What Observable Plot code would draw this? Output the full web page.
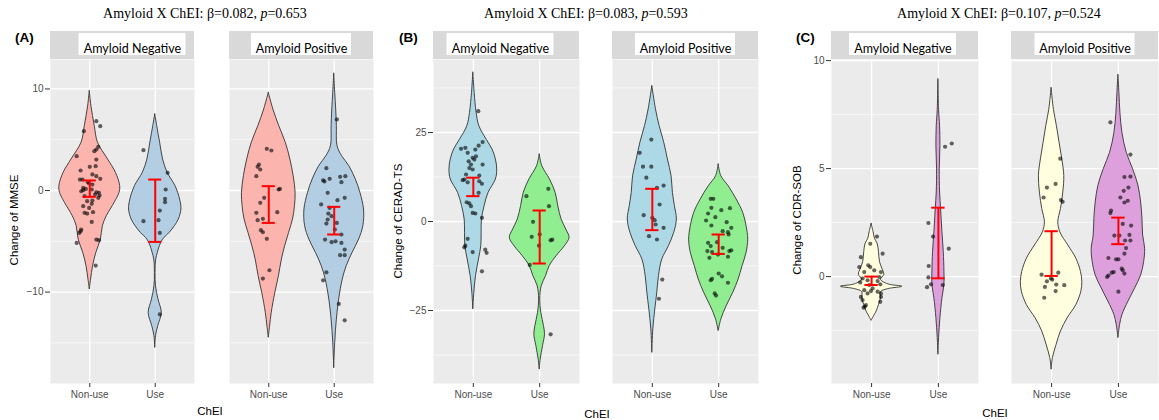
<!DOCTYPE html>
<html><head><meta charset="utf-8">
<script src="https://cdn.jsdelivr.net/npm/d3@7"></script>
<script src="https://cdn.jsdelivr.net/npm/@observablehq/plot@0.6"></script>
<style>
body{margin:0;background:#fff;}
#root{position:relative;width:1159px;height:420px;overflow:hidden;background:#fff;}
.panel{position:absolute;top:28px;}
.title{position:absolute;top:6px;line-height:16px;font-family:"Liberation Serif","Times New Roman",serif;font-size:14px;color:#000;white-space:nowrap;transform:translateX(-50%);}
.tag{position:absolute;top:30px;line-height:16px;font-family:"Liberation Sans",Arial,sans-serif;font-weight:bold;font-size:13.5px;color:#000;}
.ylab{position:absolute;font-family:"Liberation Sans",Arial,sans-serif;font-size:11.5px;color:#000;white-space:nowrap;transform:translate(-50%,-50%) rotate(-90deg);}
.xlab{position:absolute;font-family:"Liberation Sans",Arial,sans-serif;font-size:11.5px;color:#000;white-space:nowrap;transform:translate(-50%,-50%);}
</style></head><body><div id="root"></div>
<script>
// ---------- categories / labels ----------
const facets = ["Amyloid Negative", "Amyloid Positive"];
const groups = ["Non-use", "Use"];
const panelTags = ["(A)", "(B)", "(C)"];
const yLabels = ["Change of MMSE", "Change of CERAD-TS", "Change of CDR-SOB"];
const betas = ["0.082", "0.083", "0.107"];
const pvals = ["0.653", "0.593", "0.524"];
const xLabel = "ChEI";

// ---------- tick values ----------
const ticksA = [-10, 0, 10], minorA = [-15, -5, 5];
const ticksB = [-25, 0, 25], minorB = [-37.5, -12.5, 12.5, 37.5];
const ticksC = [0, 5, 10], minorC = [-2.5, 2.5, 7.5];

// ---------- violin outlines: [value, half-width (x units)] ----------
const A_negNon = [[9.79,0],[8.31,0.025],[6.34,0.076],[4.70,0.126],[3.05,0.28],[1.74,0.40],[0.43,0.465],[-0.23,0.455],[-1.21,0.38],[-2.53,0.26],[-3.51,0.20],[-4.83,0.17],[-6.14,0.10],[-7.46,0.05],[-8.77,0.02],[-9.75,0]];
const A_negUse = [[7.49,0],[6.34,0.03],[4.70,0.075],[3.05,0.12],[1.74,0.19],[0.43,0.31],[-0.89,0.38],[-1.87,0.40],[-2.86,0.36],[-3.51,0.30],[-4.17,0.22],[-4.83,0.12],[-5.49,0.07],[-6.14,0.04],[-6.80,0.015],[-8.11,0.005],[-9.43,0.012],[-10.74,0.05],[-12.05,0.10],[-13.37,0.045],[-14.35,0.012],[-15.5,0]];
const A_posNon = [[9.62,0],[7.98,0.07],[6.34,0.16],[4.70,0.26],[3.05,0.33],[1.41,0.38],[-0.23,0.41],[-1.54,0.40],[-2.86,0.37],[-4.17,0.31],[-5.49,0.25],[-6.80,0.20],[-8.44,0.155],[-10.08,0.10],[-12.05,0.045],[-13.4,0.02],[-14.5,0]];
const A_posUse = [[11.5,0],[9.62,0.015],[7.98,0.03],[6.34,0.04],[4.37,0.05],[3.38,0.12],[2.40,0.23],[1.08,0.33],[-0.23,0.40],[-1.87,0.455],[-3.51,0.445],[-4.83,0.38],[-6.14,0.28],[-7.46,0.19],[-8.77,0.13],[-10.74,0.075],[-12.71,0.04],[-15.0,0.015],[-17.5,0]];

const B_negNon = [[41.8,0],[36.1,0.02],[30.5,0.05],[26.8,0.09],[23.0,0.20],[20.2,0.29],[17.4,0.34],[14.6,0.36],[11.8,0.34],[8.05,0.23],[4.31,0.17],[0.56,0.13],[-3.18,0.125],[-6.93,0.12],[-10.67,0.085],[-15.36,0.04],[-20.0,0.015],[-24.7,0]];
const B_negUse = [[18.8,0],[15.5,0.04],[11.8,0.155],[8.05,0.24],[4.31,0.28],[0.56,0.33],[-2.25,0.40],[-4.59,0.45],[-6.93,0.38],[-9.74,0.255],[-12.55,0.15],[-15.36,0.095],[-18.2,0.03],[-21.9,0.008],[-25.7,0.025],[-29.4,0.065],[-31.8,0.08],[-35.0,0.05],[-38.8,0.015],[-41.6,0]];
const B_posNon = [[38.0,0],[31.5,0.055],[26.8,0.11],[22.1,0.18],[17.4,0.235],[12.7,0.29],[8.05,0.31],[4.31,0.34],[0.56,0.37],[-3.18,0.33],[-6.93,0.25],[-10.67,0.15],[-15.36,0.10],[-20.0,0.075],[-24.7,0.045],[-30.3,0.015],[-36.9,0]];
const B_posUse = [[16.0,0],[12.7,0.04],[9.9,0.15],[6.2,0.27],[2.4,0.37],[-1.31,0.42],[-5.06,0.445],[-8.8,0.42],[-12.55,0.36],[-16.3,0.30],[-20.0,0.22],[-23.8,0.12],[-27.5,0.04],[-30.8,0]];

const C_negNon = [[2.44,0],[2.05,0.03],[1.75,0.05],[1.52,0.09],[1.14,0.11],[0.68,0.125],[0.37,0.16],[0.08,0.19],[-0.15,0.14],[-0.36,0.25],[-0.47,0.46],[-0.58,0.25],[-0.72,0.14],[-1.01,0.14],[-1.32,0.11],[-1.62,0.075],[-1.93,0.02],[-2.05,0]];
const C_negUse = [[9.13,0],[7.72,0.01],[6.96,0.025],[6.04,0.03],[4.97,0.02],[3.89,0.025],[3.13,0.04],[2.05,0.06],[1.14,0.08],[0.23,0.09],[-0.39,0.09],[-1.01,0.06],[-1.93,0.03],[-2.85,0.01],[-3.62,0]];
const C_posNon = [[8.72,0],[7.72,0.035],[6.96,0.08],[6.19,0.12],[5.43,0.16],[4.66,0.19],[3.89,0.175],[3.13,0.14],[2.52,0.10],[2.05,0.13],[1.44,0.25],[0.83,0.37],[0.21,0.44],[-0.25,0.46],[-0.70,0.445],[-1.32,0.37],[-1.93,0.24],[-2.54,0.14],[-3.16,0.075],[-3.77,0.02],[-4.31,0]];
const C_posUse = [[9.33,0],[8.49,0.015],[7.57,0.03],[6.65,0.06],[5.73,0.125],[4.97,0.22],[4.2,0.30],[3.43,0.34],[2.67,0.36],[1.9,0.37],[1.29,0.40],[0.67,0.385],[0.05,0.34],[-0.55,0.25],[-1.16,0.15],[-1.78,0.06],[-2.24,0.025],[-2.85,0]];

// ---------- jittered points: [x offset (x units), value] ----------
const A_negNonPts = [[0.10,6.83],[0.16,6.34],[-0.09,5.84],[0.13,4.30],[0.10,4.04],[0.07,3.87],[-0.20,3.38],[0.10,3.05],[0,2.33],[0.09,2.40],[-0.14,1.97],[0.04,1.58],[0.10,1.41],[0.16,1.15],[-0.15,1.08],[-0.11,1.08],[-0.03,0.82],[0.04,0.59],[-0.10,0.26],[-0.06,0.16],[-0.10,0.03],[0.03,0.10],[0.10,-0.17],[0.14,-0.23],[0.15,-0.49],[-0.08,-0.56],[-0.04,-1.05],[0.04,-0.99],[0.03,-1.31],[-0.10,-1.54],[-0.08,-2.20],[-0.04,-2.27],[0.05,-2.13],[0.03,-3.09],[-0.13,-3.84],[-0.14,-4.01],[-0.16,-4.17],[-0.20,-5.16],[0.10,-4.83],[0.14,-4.89],[0.09,-7.39],[-0.01,0.69],[0.08,-0.39],[-0.13,-0.07],[0.13,-0.72],[-0.01,-1.71]];
const A_negUsePts = [[-0.18,3.97],[0.19,1.74],[0.16,0.10],[0.15,-0.82],[0.15,-1.15],[0.07,-1.97],[-0.18,-3.02],[0.05,-2.92],[0.07,-4.17],[0.07,-12.2]];
const A_posNonPts = [[-0.03,4.11],[0.04,3.94],[-0.15,2.56],[-0.17,2.33],[-0.13,2.07],[-0.19,1.41],[0.15,0.10],[0.17,0.16],[-0.07,-0.72],[-0.13,-1.21],[-0.19,-2.20],[0.13,-2.13],[-0.17,-2.92],[-0.09,-2.79],[-0.12,-3.90],[-0.09,-4.11],[-0.03,-4.76],[0.01,-7.85],[-0.09,-8.67]];
const A_posUsePts = [[0.04,7.00],[-0.12,2.2],[-0.17,1.0],[-0.15,0.9],[-0.07,1.15],[0.09,1.35],[0.17,1.41],[0.11,0.82],[-0.10,-0.23],[-0.20,-1.37],[0.16,-0.72],[0.05,-0.95],[-0.07,-1.71],[-0.09,-2.27],[-0.04,-2.53],[-0.10,-2.86],[-0.12,-3.25],[0.04,-3.19],[0.01,-3.84],[0.11,-4.33],[-0.14,-4.83],[-0.04,-5.09],[0.02,-5.0],[0.11,-5.16],[0.16,-5.81],[0.09,-6.37],[0.16,-6.37],[-0.12,-8.05],[-0.17,-8.84],[0.07,-11.17],[0.16,-12.78]];

const B_negNonPts = [[0.075,31.0],[0.14,22.3],[0.08,21.3],[-0.185,20.4],[-0.12,20.7],[0.03,20.2],[-0.085,19.3],[0.04,18.3],[-0.01,17.9],[-0.07,16.9],[0.015,17.4],[-0.035,16.0],[0.14,16.0],[-0.06,15.0],[-0.01,14.6],[-0.11,13.2],[0.09,12.9],[-0.135,11.8],[-0.16,11.6],[-0.085,11.0],[0.09,11.3],[0.13,10.6],[0.08,8.05],[-0.10,5.4],[-0.06,5.07],[-0.035,4.31],[-0.01,2.4],[0.03,2.25],[0.13,1.03],[-0.085,-4.87],[-0.12,-6.8],[-0.135,-7.25],[-0.01,-8.6],[0.18,-7.9],[0.20,-8.8],[0.13,-14.0]];
const B_negUsePts = [[0.13,9.18],[-0.2,7.1],[0.14,4.31],[-0.10,-0.08],[-0.12,-4.3],[0,-3.6],[-0.01,-6.8],[0.19,-5.1],[0.165,-5.3],[-0.15,-12.2],[0.165,-31.7]];
const B_posNonPts = [[-0.015,23.0],[-0.19,19.3],[-0.14,15.4],[-0.015,15.4],[-0.09,12.3],[0.17,10.1],[0.07,9.45],[0.11,4.77],[-0.13,1.78],[0,1.03],[0.035,0.37],[0.05,-0.84],[0.17,-1.78],[-0.05,-4.12],[0.07,-5.06],[0.15,-16.3],[0.10,-21.7]];
const B_posUsePts = [[-0.12,6.37],[-0.08,6.37],[0.04,3.18],[0.17,3.74],[-0.11,3.84],[-0.16,2.25],[-0.05,1.22],[-0.19,0.28],[-0.11,-1.12],[0.12,-0.18],[0.19,-1.78],[0.06,-2.72],[0.14,-3.0],[0.15,-3.65],[-0.16,-6.0],[-0.12,-6.9],[-0.025,-5.8],[0.06,-7.4],[-0.17,-8.3],[0.16,-8.3],[0.19,-8.1],[-0.10,-8.6],[-0.01,-9.3],[-0.14,-10.2],[0.14,-9.9],[0,-14.6],[0.05,-15.4],[-0.10,-16.1],[-0.12,-16.5],[0.14,-17.2],[-0.06,-20.2],[-0.04,-20.8]];

const C_negNonPts = [[0.08,1.85],[-0.02,1.52],[0.165,1.06],[-0.16,0.90],[-0.05,0.52],[-0.02,0.44],[-0.185,0.44],[-0.11,0.21],[0.04,0.29],[0.14,0.21],[0.115,-0.02],[-0.135,-0.09],[-0.06,-0.17],[0.09,-0.21],[-0.17,-0.27],[0.13,-0.36],[-0.035,-0.39],[0.015,-0.55],[-0.11,-0.63],[-0.01,-0.67],[0.14,-0.78],[-0.16,-0.94],[-0.135,-1.09],[0.14,-0.94],[0.13,-1.17],[-0.085,-1.32],[-0.12,-1.44],[-0.10,-1.39],[0.09,-0.70],[-0.06,-0.78]];
const C_negUsePts = [[0.10,6.01],[0.20,6.16],[-0.15,2.48],[-0.08,1.85],[0.155,1.29],[-0.145,0.49],[-0.15,-0.04],[-0.11,-0.36],[-0.17,-0.49],[0.065,-0.39]];
const C_posNonPts = [[0.13,5.46],[-0.07,4.12],[0.06,4.29],[-0.12,3.66],[0.14,3.54],[0.165,3.46],[-0.15,0.09],[0.10,0.18],[0.01,-0.14],[-0.07,-0.22],[0.07,-0.37],[0.19,-0.40],[-0.10,-0.48],[0.06,-0.67],[-0.11,-0.98],[-0.01,-0.09]];
const C_posUsePts = [[-0.12,7.14],[0.18,5.65],[0.09,4.61],[0.18,4.63],[0.15,4.12],[0.08,3.97],[0.03,3.66],[0.14,3.51],[0.09,3.43],[-0.11,3.05],[-0.12,2.94],[0.065,2.44],[0.19,2.36],[-0.06,1.90],[0.015,1.90],[0.165,1.93],[0.10,1.67],[0.18,1.67],[0.115,1.32],[0.09,1.06],[-0.15,0.86],[-0.035,0.80],[0,0.80],[-0.07,0.21],[0.05,0.37],[0.065,0.29],[-0.10,0.18],[-0.17,-0.02],[-0.15,0.05],[0.09,0.14],[0,-0.70]];

// ---------- error bars: [low, high] (neg Non-use, neg Use, pos Non-use, pos Use) ----------
const errA = [[-0.62,0.99],[-5.06,1.08],[-3.19,0.43],[-4.33,-1.61]];
const errB = [[7.12,12.3],[-11.8,3.09],[-2.43,9.18],[-9.1,-3.65]];
const errC = [[-0.39,0.0],[-0.08,3.19],[0.03,2.10],[1.50,2.73]];

// ---------- fills ----------
const colorsA = ["#FBB4AE", "#B3CDE3"];
const colorsB = ["#ADD8E6", "#90EE90"];
const colorsC = ["#FFFFE0", "#DDA0DD"];

const panels = [
  {left:0, width:385, ml:50, mr:12, gap:35, ydomain:[-19.0,12.9], ticks:ticksA, minor:minorA, colors:colorsA,
   violins:[A_negNon,A_negUse,A_posNon,A_posUse], points:[A_negNonPts,A_negUsePts,A_posNonPts,A_posUsePts], err:errA,
   shift:[10,0], title:205, tag:15, ylab:[14,220], xlab:[210,411]},
  {left:385, width:390, ml:48, mr:17, gap:33, ydomain:[-45.5,45.5], ticks:ticksB, minor:minorB, colors:colorsB,
   violins:[B_negNon,B_negUse,B_posNon,B_posUse], points:[B_negNonPts,B_negUsePts,B_posNonPts,B_posUsePts], err:errB,
   shift:[-6,0], title:586, tag:399, ylab:[398,221], xlab:[597,414]},
  {left:775, width:384, ml:56, mr:1, gap:33, ydomain:[-4.95,10.05], ticks:ticksC, minor:minorC, colors:colorsC,
   violins:[C_negNon,C_negUse,C_posNon,C_posUse], points:[C_negNonPts,C_negUsePts,C_posNonPts,C_posUsePts], err:errC,
   shift:[-2,0], title:999, tag:796, ylab:[797,220], xlab:[995,413]}
];

const H = 392, MT = 31, MB = 37, innerH = H - MT - MB, stripH = 28;
const boxW = [107, 100];
const root = document.getElementById("root");

panels.forEach((cfg, k) => {
  const vrows = [], prows = [], erows = [];
  cfg.violins.forEach((v, i) => { const fx = facets[i >> 1], pos = (i % 2) + 1;
    v.forEach(([y, w]) => vrows.push({fx, pos, y, w, key: i, fill: cfg.colors[i % 2]})); });
  cfg.points.forEach((p, i) => { const fx = facets[i >> 1], pos = (i % 2) + 1;
    p.forEach(([dx, y]) => prows.push({fx, x: pos + dx, y})); });
  cfg.err.forEach(([lo, hi], i) => erows.push({fx: facets[i >> 1], pos: (i % 2) + 1, lo, hi}));

  const span = cfg.width - cfg.ml - cfg.mr;
  const bw = (span - cfg.gap) / 2;
  const pad = cfg.gap / (bw + cfg.gap);

  const stripMarks = facets.map((f, j) => {
    const side = (bw - boxW[j]) / 2, s = cfg.shift[j];
    return [
      Plot.rect([f], {fx: d => d, fill: "white", insetLeft: side + s, insetRight: side - s, insetTop: -(stripH - 2), insetBottom: innerH + 4}),
      Plot.text([f], {fx: d => d, text: d => d, frameAnchor: "top", dy: -15, dx: s, fontFamily: "Lato, sans-serif", fontSize: 12.5, fill: "#000"})
    ];
  }).flat();

  const svg = Plot.plot({
    width: cfg.width, height: H, marginTop: MT, marginBottom: MB, marginLeft: cfg.ml, marginRight: cfg.mr,
    style: {fontFamily: "'Liberation Sans', Arial, sans-serif", fontSize: "10px", background: "transparent", overflow: "visible"},
    fx: {domain: facets, paddingInner: pad, paddingOuter: 0, round: false, axis: null, label: null},
    x: {domain: [0.4, 2.6]},
    y: {domain: cfg.ydomain},
    color: {type: "identity"},
    marks: [
      Plot.frame({fill: "#EBEBEB", stroke: null}),
      Plot.rect([0], {fill: "#D9D9D9", insetTop: -stripH, insetBottom: innerH}),
      ...stripMarks,
      Plot.gridY(cfg.minor, {stroke: "white", strokeOpacity: 1, strokeWidth: 0.6}),
      Plot.gridY(cfg.ticks, {stroke: "white", strokeOpacity: 1, strokeWidth: 1.3}),
      Plot.gridX([1, 2], {stroke: "white", strokeOpacity: 1, strokeWidth: 1.3}),
      Plot.areaX(vrows, {fx: "fx", y: "y", x1: d => d.pos - d.w, x2: d => d.pos + d.w, z: "key", fill: "fill",
        stroke: "#333", strokeWidth: 0.9, curve: "catmull-rom"}),
      Plot.dot(prows, {fx: "fx", x: "x", y: "y", r: 2.1, fill: "black", fillOpacity: 0.6}),
      Plot.ruleX(erows, {fx: "fx", x: "pos", y1: "lo", y2: "hi", stroke: "#FF0000", strokeWidth: 2}),
      Plot.ruleY(erows, {fx: "fx", y: "hi", x1: d => d.pos - 0.1, x2: d => d.pos + 0.1, stroke: "#FF0000", strokeWidth: 2}),
      Plot.ruleY(erows, {fx: "fx", y: "lo", x1: d => d.pos - 0.1, x2: d => d.pos + 0.1, stroke: "#FF0000", strokeWidth: 2}),
      Plot.axisY({ticks: cfg.ticks, tickSize: 5, tickPadding: 2, fontSize: 10, stroke: "#333", fill: "#4D4D4D", label: null}),
      Plot.axisX({ticks: [1, 2], tickFormat: d => groups[d - 1], tickSize: 4, tickPadding: 3, fontSize: 10, stroke: "#333", fill: "#4D4D4D", label: null})
    ]
  });
  const holder = document.createElement("div");
  holder.className = "panel";
  holder.style.left = cfg.left + "px";
  holder.appendChild(svg);
  root.appendChild(holder);

  const t = document.createElement("div");
  t.className = "title"; t.style.left = cfg.title + "px";
  t.innerHTML = `Amyloid X ChEI: β=${betas[k]}, <i>p</i>=${pvals[k]}`;
  root.appendChild(t);

  const tg = document.createElement("div");
  tg.className = "tag"; tg.style.left = cfg.tag + "px"; tg.textContent = panelTags[k];
  root.appendChild(tg);

  const yl = document.createElement("div");
  yl.className = "ylab"; yl.style.left = cfg.ylab[0] + "px"; yl.style.top = cfg.ylab[1] + "px"; yl.textContent = yLabels[k];
  root.appendChild(yl);

  const xl = document.createElement("div");
  xl.className = "xlab"; xl.style.left = cfg.xlab[0] + "px"; xl.style.top = cfg.xlab[1] + "px"; xl.textContent = xLabel;
  root.appendChild(xl);
});
</script></body></html>
